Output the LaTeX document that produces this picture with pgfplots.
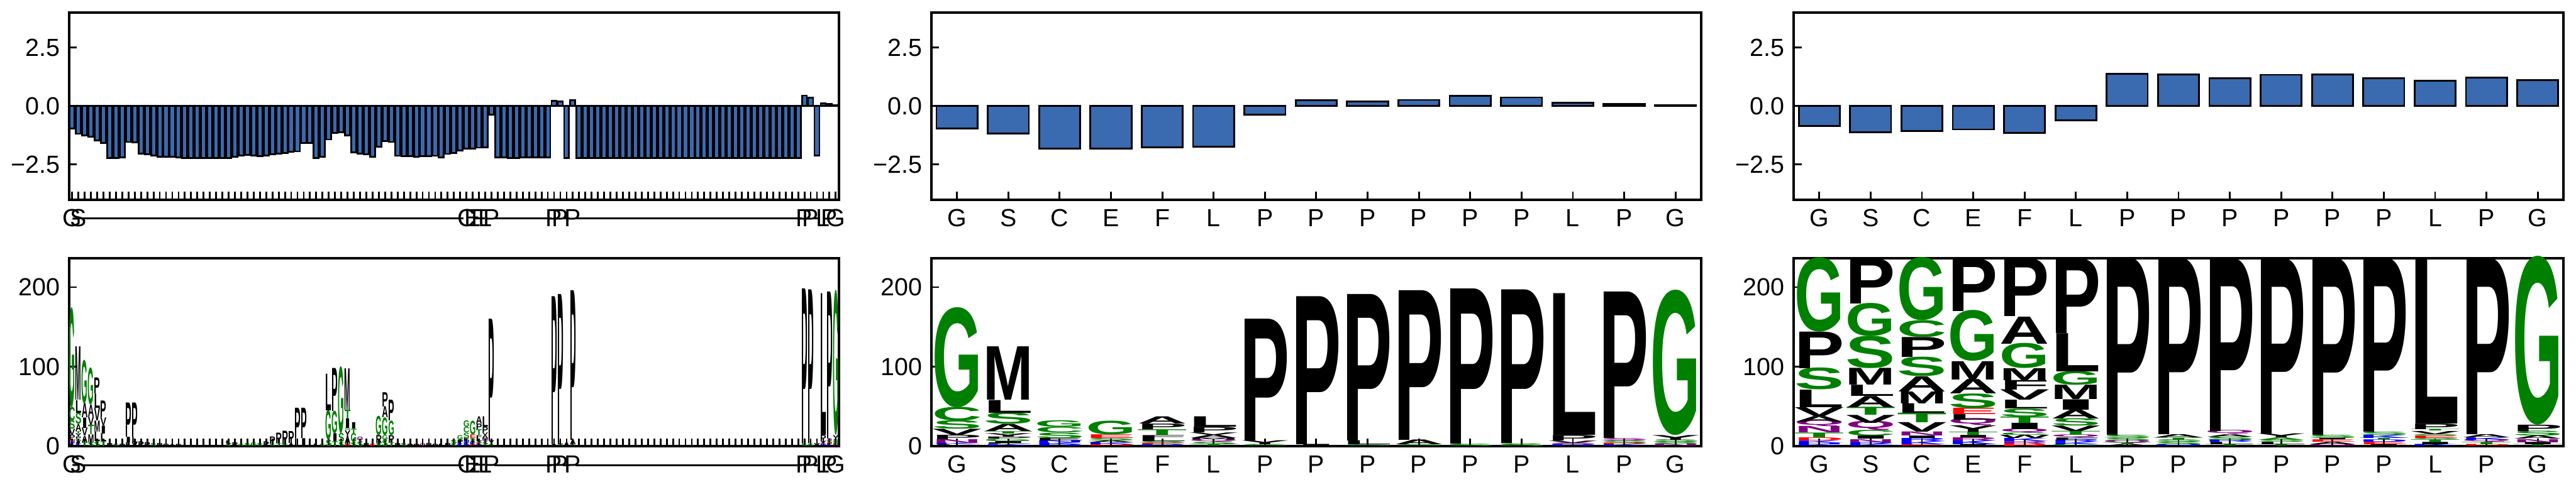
\documentclass[border=0pt]{standalone}
\usepackage{fontspec}
\setmainfont{Liberation Sans}
\usepackage{graphicx}
\usepackage{pgfplots}
\usepackage{pgfplotstable}
\pgfplotsset{compat=1.18}
\definecolor{barblue}{RGB}{58,106,176}
\definecolor{gr}{RGB}{0,128,0}
\definecolor{k}{RGB}{0,0,0}
\definecolor{pu}{RGB}{128,0,128}
\definecolor{bl}{RGB}{0,0,255}
\definecolor{rd}{RGB}{255,0,0}
\newdimen\logodim
% meta string = height:colour:letter
\def\logoparseA#1:#2:#3\relax#4{\logodim=#1pt\relax\logodim=0.3119\logodim\resizebox{#4}{\logodim}{\textcolor{#2}{\bfseries #3}}}
\newcommand\logoletter[1]{\edef\logotmp{\pgfplotspointmeta}\expandafter\logoparseA\logotmp\relax{#1}}
\newcommand\setlbl[2]{\expandafter\def\csname lblx#1\endcsname{#2}}
% gap positions are labelled with a dash; the dashes join into one line
\newcommand\lblfor[1]{\ifcsname lblx#1\endcsname\csname lblx#1\endcsname\else\rule[2.7pt]{2.7pt}{0.72pt}\fi}
\setlbl{0}{G}\setlbl{1}{S}\setlbl{63}{C}\setlbl{64}{E}\setlbl{65}{F}\setlbl{66}{L}\setlbl{67}{P}
\setlbl{77}{P}\setlbl{78}{P}\setlbl{80}{P}\setlbl{117}{P}\setlbl{118}{P}\setlbl{120}{L}\setlbl{121}{P}\setlbl{122}{G}

\pgfplotsset{
  panel/.style={scale only axis, width=301.41pt, anchor=south west, axis on top,
    axis line style={line width=1pt}, tick align=inside, tick pos=left,
    major tick length=3.1pt, tick style={line width=0.7pt, black},
    tick label style={font=\fontsize{9.7pt}{11pt}\selectfont},
    xticklabel style={anchor=base, yshift=-10.45pt}},
  toprow/.style={panel, height=73.27pt, ymin=-4, ymax=4, ytick={-2.5,0,2.5}, yticklabels={−2.5,0.0,2.5}},
  botrow/.style={panel, height=73.61pt, ymin=0, ymax=236, ytick={0,100,200}, yticklabels={0,100,200}},
  seq15/.style={xmin=-0.5, xmax=14.5, xtick={0,...,14}, xticklabels={G,S,C,E,F,L,P,P,P,P,P,P,L,P,G}},
  seqlong/.style={xmin=-0.5, xmax=122.5, xtick={0,...,122}, xticklabel={\lblfor{\ticknum}}},
  barstyle/.style={ybar, bar width=0.8, fill=barblue, draw=black, line width=0.7pt},
  logo/.style={only marks, mark=*, mark size=0pt, draw=none, fill=none,
    point meta=explicit symbolic,
    every node near coord/.append style={anchor=south, inner sep=0pt, outer sep=0pt},
    nodes near coords={\logoletter{#1}}},
}

\pgfplotstableread{
x v
0 -0.96
1 -1.19
2 -1.25
3 -1.30
4 -1.46
5 -1.57
6 -2.22
7 -2.22
8 -2.19
9 -1.54
10 -1.55
11 -2.03
12 -2.07
13 -2.11
14 -2.18
15 -2.18
16 -2.18
17 -2.20
18 -2.22
19 -2.22
20 -2.22
21 -2.22
22 -2.22
23 -2.22
24 -2.22
25 -2.22
26 -2.18
27 -2.11
28 -2.09
29 -2.11
30 -2.14
31 -2.11
32 -2.07
33 -2.03
34 -2.00
35 -1.96
36 -1.94
37 -1.57
38 -1.57
39 -2.22
40 -2.16
41 -1.43
42 -1.15
43 -1.11
44 -1.25
45 -1.98
46 -2.03
47 -2.07
48 -2.16
49 -1.74
50 -1.50
51 -1.54
52 -2.13
53 -2.14
54 -2.14
55 -2.16
56 -2.14
57 -2.14
58 -2.13
59 -2.20
60 -2.05
61 -2.00
62 -1.89
63 -1.81
64 -1.81
65 -1.78
66 -1.76
67 -0.37
68 -2.20
69 -2.20
70 -2.22
71 -2.22
72 -2.20
73 -2.20
74 -2.20
75 -2.20
76 -2.20
77 0.23
78 0.20
79 -2.22
80 0.25
81 -2.22
82 -2.22
83 -2.22
84 -2.22
85 -2.22
86 -2.22
87 -2.22
88 -2.22
89 -2.22
90 -2.22
91 -2.22
92 -2.22
93 -2.22
94 -2.22
95 -2.22
96 -2.22
97 -2.22
98 -2.22
99 -2.22
100 -2.22
101 -2.22
102 -2.22
103 -2.22
104 -2.22
105 -2.22
106 -2.22
107 -2.22
108 -2.22
109 -2.22
110 -2.22
111 -2.22
112 -2.22
113 -2.22
114 -2.22
115 -2.22
116 -2.22
117 0.45
118 0.35
119 -2.11
120 0.12
121 0.09
122 0.03
}\barsL

\pgfplotstableread{
x v
0 -0.96
1 -1.18
2 -1.81
3 -1.81
4 -1.77
5 -1.75
6 -0.37
7 0.245
8 0.20
9 0.265
10 0.44
11 0.37
12 0.145
13 0.10
14 0.03
}\barsM

\pgfplotstableread{
x v
0 -0.86
1 -1.12
2 -1.07
3 -1.00
4 -1.14
5 -0.61
6 1.39
7 1.36
8 1.19
9 1.34
10 1.36
11 1.20
12 1.08
13 1.22
14 1.10
}\barsR

% logo tables: x (column), y0 (stack bottom), m = height:colour:letter
\pgfplotstableread{
x xl y0 m
0 0 0.01 1.5:k:L
0 0 1.5 2.1:bl:K
0 0 3.6 4.8:pu:N
0 0 8.4 5.6:k:P
0 0 14 7.6:k:V
0 0 21.6 10.4:gr:S
0 0 32 17:gr:C
0 0 49 124:gr:G
1 1 0.01 2:bl:K
1 1 2 1.6:k:L
1 1 3.6 2.4:k:I
1 1 6 3:gr:G
1 1 9 2.6:k:P
1 1 11.6 4.4:k:Y
1 1 16 3:gr:T
1 1 19 9:k:A
1 1 28 14:gr:S
1 1 42 16:k:L
1 1 58 67:k:M
2 63 0.01 2:bl:R
2 63 2 2.4:bl:K
2 63 4.4 2.6:bl:N
2 63 7 3.4:k:E
2 63 10.4 6.6:gr:S
2 63 17 7:gr:C
2 63 24 8:gr:G
3 64 0.01 2:rd:D
3 64 2 2.4:bl:K
3 64 4.4 2.6:k:A
3 64 7 3:gr:S
3 64 10 4.6:rd:E
3 64 15 17:gr:G
4 65 0.01 1.8:bl:R
4 65 1.8 1.8:rd:E
4 65 3.6 2.4:gr:S
4 65 6 4.4:k:L
4 65 10.4 3.6:k:F
4 65 14 7:gr:T
4 65 21 7:k:P
4 65 28 9:k:A
5 66 0.01 2:gr:T
5 66 2 3:gr:S
5 66 5 3:pu:Q
5 66 8 2:k:M
5 66 10 4:k:A
5 66 14 3:k:V
5 66 17 7:k:P
5 66 24 13:k:L
6 67 0.01 2:gr:S
6 67 2 5:k:Y
6 67 7 153:k:P
7 77 0.01 2:k:I
7 77 2 186:k:P
8 78 0.01 2:gr:S
8 78 2 5:k:L
8 78 7 184:k:P
9 80 0.01 2:gr:S
9 80 2 6:k:A
9 80 8 188:k:P
10 117 0.01 3:gr:S
10 117 3 195:k:P
11 118 0.01 3.6:gr:S
11 118 3.6 193:k:P
12 120 0.01 2:bl:R
12 120 2 2:pu:S
12 120 4 3:k:V
12 120 7 7:k:P
12 120 14 178:k:L
13 121 0.01 2:bl:K
13 121 2 2:rd:R
13 121 4 3:gr:S
13 121 7 3:pu:S
13 121 10 184:k:P
14 122 0.01 2.4:pu:N
14 122 2.4 2.6:gr:S
14 122 5 3:gr:S
14 122 8 6:k:Y
14 122 14 180:gr:G
}\logoM

\pgfplotstableread{
x y0 m
2 0.01 5:gr:T
2 5 8:k:A
2 13 10:k:V
2 23 13:k:I
2 36 18:k:A
2 54 54:gr:G
3 0.01 5:gr:S
3 5 10:k:M
3 15 12:gr:T
3 27 10:k:V
3 37 15:k:A
3 52 46:gr:G
4 0.01 6:gr:S
4 6 12:k:L
4 18 14:k:M
4 32 16:k:V
4 48 18:k:L
4 66 20:k:P
5 0.01 6:gr:T
5 6 10:k:L
5 16 10:k:I
5 26 10:k:V
5 36 21:k:P
6 0.01 4:k:P
7 0.01 3:gr:S
8 0.01 3:k:P
9 0.01 5:k:L
9 5 7:k:I
9 12 43:k:P
10 0.01 5:k:V
10 5 7:k:L
10 12 43:k:P
11 0.01 6:k:P
12 0.01 5:k:P
13 0.01 4:gr:S
14 0.01 4:k:P
15 0.01 3:k:P
16 0.01 2:k:A
17 0.01 2:k:P
25 0.01 3:gr:S
25 3 4:k:L
26 0.01 5:k:P
27 0.01 3:gr:G
28 0.01 4:gr:S
29 0.01 5:gr:G
30 0.01 4:gr:S
31 0.01 6:k:P
32 0.01 3:gr:S
32 3 9:k:P
33 0.01 4:gr:T
33 4 13:k:P
34 0.01 2:gr:S
34 2 17:k:P
35 0.01 4:k:A
35 4 15:k:P
36 0.01 10:k:L
36 10 38:k:P
37 0.01 10:k:I
37 10 38:k:P
39 0.01 3:k:L
40 0.01 3:gr:S
41 0.01 8:gr:S
41 8 37:gr:G
41 45 46:k:L
42 0.01 6:gr:T
42 6 10:k:I
42 16 28:gr:G
42 44 54:k:P
43 0.01 5:gr:S
43 5 11:gr:S
43 16 83:gr:G
44 0.01 3:rd:R
44 3 9:k:A
44 12 8:k:Y
44 20 3:gr:S
44 23 12:k:I
44 35 11:gr:T
44 46 52:k:M
45 0.01 5:gr:S
45 5 11:gr:G
45 16 6:gr:T
45 22 8:k:I
46 0.01 6:gr:S
46 6 5:pu:Q
47 0.01 4:k:P
48 0.01 3:rd:E
49 0.01 4:gr:S
49 4 10:k:R
49 14 24:gr:G
50 0.01 8:gr:S
50 8 6:gr:G
50 14 22:gr:G
50 36 14:k:A
50 50 18:k:P
51 0.01 5:gr:T
51 5 9:k:P
51 14 18:gr:G
51 32 26:k:P
52 0.01 4:k:P
53 0.01 4:gr:S
54 0.01 3:k:P
55 0.01 3:k:P
56 0.01 3:pu:Q
57 0.01 4:k:P
58 0.01 3:k:P
59 0.01 3:k:L
60 0.01 4:k:P
61 0.01 3:gr:S
61 3 5:gr:S
62 0.01 4:bl:K
62 4 4:k:P
62 8 6:gr:G
79 0.01 5:k:A
119 0.01 4:k:V
}\logoLx

\pgfplotstableread{
x y0 m
0 0.01 2:bl:K
0 2 2:bl:H
0 4 3:bl:K
0 7 4:rd:D
0 11 6:gr:T
0 17 8:pu:N
0 25 6:pu:Q
0 31 7:k:A
0 38 11:k:V
0 49 22:k:L
0 71 27:gr:S
0 98 46:k:P
0 144 92:gr:G
1 0.01 2:bl:K
1 2 3:bl:R
1 5 4:pu:N
1 9 4:k:I
1 13 7:gr:C
1 20 9:pu:Q
1 29 10:k:V
1 39 10:gr:T
1 49 14:k:A
1 63 14:k:L
1 77 21:k:M
1 98 40:gr:S
1 138 41:gr:G
1 179 57:k:P
2 0.01 2:rd:E
2 2 4:bl:K
2 6 4:bl:R
2 10 3:k:I
2 13 5:pu:N
2 18 12:k:V
2 30 12:gr:T
2 42 12:k:L
2 54 15:k:M
2 69 19:k:A
2 88 24:gr:S
2 112 25:k:P
2 137 21:gr:C
2 158 78:gr:G
3 0.01 2:k:I
3 2 5:bl:K
3 7 4:pu:R
3 11 3:k:I
3 14 4:gr:T
3 18 8:k:Y
3 26 7:pu:Q
3 33 7:k:L
3 40 8:rd:E
3 48 18:gr:S
3 66 18:k:A
3 84 23:k:M
3 107 63:gr:G
3 170 66:k:P
4 0.01 3:rd:R
4 3 3:pu:R
4 6 4:bl:K
4 10 4:k:W
4 14 3:gr:C
4 17 4:pu:Q
4 21 8:k:I
4 29 8:gr:T
4 37 10:gr:S
4 47 11:k:L
4 58 13:k:V
4 71 12:k:F
4 83 15:k:M
4 98 31:gr:G
4 129 34:k:A
4 163 73:k:P
5 0.01 2:gr:C
5 2 3:bl:K
5 5 3:bl:R
5 8 3:k:F
5 11 3:pu:Q
5 14 5:gr:T
5 19 7:k:V
5 26 9:gr:S
5 35 11:k:A
5 46 13:k:I
5 59 18:k:M
5 77 17:gr:G
5 94 48:k:L
5 142 94:k:P
6 0.01 2:k:A
6 2 2:gr:T
6 4 3:pu:Q
6 7 3:gr:S
6 10 4:gr:S
6 14 222:k:P
7 0.01 2:bl:Q
7 2 3:gr:S
7 5 3:gr:S
7 8 3:gr:T
7 11 4:k:A
7 15 221:k:P
8 0.01 2:gr:T
8 2 3:k:L
8 5 3:bl:R
8 8 4:gr:S
8 12 3:k:A
8 15 4:pu:Q
8 19 217:k:P
9 0.01 2:gr:T
9 2 3:k:L
9 5 3:gr:S
9 8 3:gr:A
9 11 5:k:Y
9 16 220:k:P
10 0.01 2:pu:Q
10 2 3:k:A
10 5 3:rd:E
10 8 2:k:I
10 10 4:gr:S
10 14 222:k:P
11 0.01 2:k:I
11 2 3:rd:E
11 5 3:bl:D
11 8 2:gr:T
11 10 4:bl:K
11 14 4:gr:S
11 18 218:k:P
12 0.01 2:bl:K
12 2 3:k:I
12 5 3:gr:T
12 8 2:gr:S
12 10 3:rd:E
12 13 2:gr:S
12 15 4:k:V
12 19 2:gr:T
12 21 7:k:P
12 28 208:k:L
13 0.01 2:rd:D
13 2 3:gr:T
13 5 3:pu:Q
13 8 3:bl:K
13 11 4:k:A
13 15 221:k:P
14 0.01 2:gr:T
14 2 3:k:I
14 5 4:pu:N
14 9 4:k:A
14 13 6:gr:S
14 19 8:k:P
14 27 209:gr:G
}\logoR

\begin{document}
\begin{tikzpicture}
\path[use as bounding box] (0,0) rectangle (1008.61pt,192.61pt);
% ---- top row ----
\begin{axis}[toprow, seqlong, at={(27.03pt,114.41pt)}]
\addplot[barstyle] table[x=x,y=v] {\barsL};
\end{axis}
\begin{axis}[toprow, seq15, at={(364.65pt,114.41pt)}]
\addplot[barstyle] table[x=x,y=v] {\barsM};
\end{axis}
\begin{axis}[toprow, seq15, at={(702.27pt,114.41pt)}]
\addplot[barstyle] table[x=x,y=v] {\barsR};
\end{axis}
% ---- bottom row ----
\begin{axis}[botrow, seqlong, at={(27.03pt,17.68pt)}]
\addplot[logo=2.38pt] table[x=xl,y=y0,meta=m] {\logoM};
\addplot[logo=2.38pt] table[x=x,y=y0,meta=m] {\logoLx};
\end{axis}
\begin{axis}[botrow, seq15, at={(364.65pt,17.68pt)}]
\addplot[logo=19.5pt] table[x=x,y=y0,meta=m] {\logoM};
\end{axis}
\begin{axis}[botrow, seq15, at={(702.27pt,17.68pt)}]
\addplot[logo=19.5pt] table[x=x,y=y0,meta=m] {\logoR};
\end{axis}
\end{tikzpicture}
\end{document}
